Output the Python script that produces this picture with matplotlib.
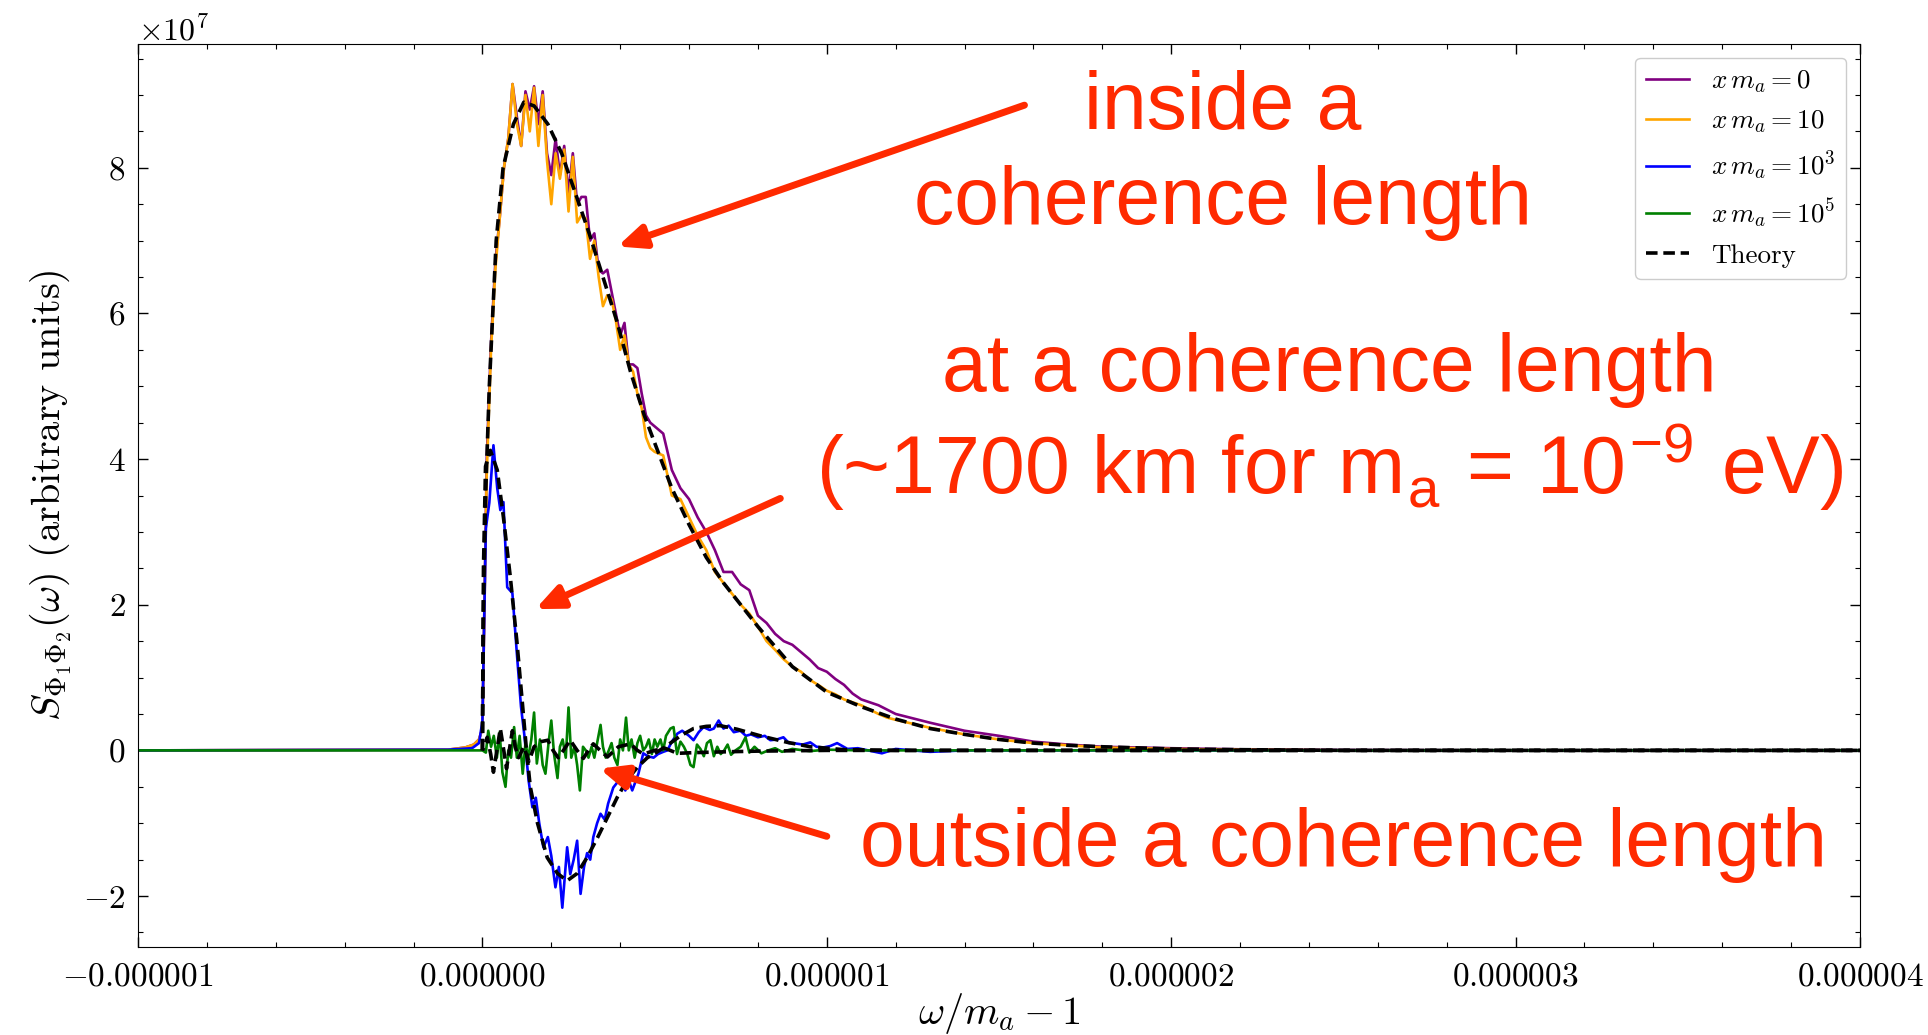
import matplotlib as mpl
mpl.use('Agg')
import numpy as np
import matplotlib.pyplot as plt
from matplotlib.ticker import AutoMinorLocator, FuncFormatter, MultipleLocator

plt.rcParams['font.family'] = 'serif'
plt.rcParams['font.serif'] = ['cmr10', 'DejaVu Serif']
plt.rcParams['mathtext.fontset'] = 'cm'
plt.rcParams['axes.formatter.use_mathtext'] = True
plt.rcParams['axes.unicode_minus'] = True

# x in units of 1e-6 (omega/m_a - 1), y in units of 1e7
x_big = [-1.0, -0.1, -0.05, -0.025, -0.01, 0.0,
         0.0125, 0.025, 0.0375, 0.05, 0.0625, 0.075, 0.0875, 0.1, 0.1125, 0.125,
         0.1375, 0.15, 0.1625, 0.175, 0.1875, 0.2, 0.2125, 0.225, 0.2375, 0.25,
         0.2625, 0.275, 0.2875, 0.3, 0.3125, 0.325, 0.3375, 0.35, 0.3625, 0.375,
         0.3875, 0.4, 0.4125, 0.425, 0.4375, 0.45, 0.4625, 0.475, 0.4875, 0.5,
         0.525, 0.55, 0.575, 0.6, 0.625, 0.65, 0.675, 0.7, 0.725, 0.75, 0.775,
         0.8, 0.825, 0.85, 0.875, 0.9, 0.925, 0.95, 0.975, 1.0, 1.025, 1.05,
         1.075, 1.1, 1.125, 1.15, 1.175, 1.2, 1.3, 1.4, 1.5, 1.6, 1.7, 1.8, 1.9,
         2.0, 2.2, 2.5, 3.0, 4.0]
y_x0 = [0.0, 0.01, 0.04, 0.08, 0.15, 0.3,
        4.0, 5.6, 6.7, 7.3, 8.0, 8.4, 9.15, 8.7, 8.3, 9.05,
        8.8, 9.12, 8.6, 9.05, 8.2, 7.9, 8.4, 7.9, 8.3, 7.65,
        8.2, 7.5, 7.6, 7.6, 7.0, 7.1, 6.6, 6.55, 6.6, 6.3,
        6.0, 5.7, 5.87, 5.3, 5.3, 5.25, 4.9, 4.6, 4.5, 4.45,
        4.35, 3.85, 3.6, 3.45, 3.2, 3.0, 2.75, 2.45, 2.45, 2.28, 2.2,
        1.85, 1.75, 1.6, 1.5, 1.45, 1.35, 1.25, 1.13, 1.08, 0.98, 0.9,
        0.78, 0.7, 0.66, 0.62, 0.56, 0.5, 0.38, 0.27, 0.2, 0.12, 0.08, 0.05, 0.04,
        0.03, 0.015, 0.005, 0.0, 0.0]
y_x10 = [0.0, 0.01, 0.04, 0.08, 0.15, 0.3,
         3.8, 5.5, 6.6, 7.3, 8.0, 8.4, 9.15, 8.6, 8.3, 9.0,
         8.5, 9.1, 8.3, 9.0, 8.1, 7.5, 8.2, 7.85, 8.25, 7.4,
         8.15, 7.25, 7.35, 7.3, 6.75, 7.0, 6.5, 6.1, 6.25, 6.2,
         5.9, 5.5, 5.7, 5.3, 5.2, 4.9, 4.7, 4.3, 4.15, 4.1,
         4.05, 3.5, 3.45, 3.2, 2.95, 2.75, 2.45, 2.3, 2.15, 2.0, 1.88,
         1.7, 1.5, 1.38, 1.25, 1.15, 1.08, 0.97, 0.9, 0.82, 0.77, 0.7,
         0.66, 0.62, 0.56, 0.5, 0.45, 0.42, 0.31, 0.22, 0.15, 0.1, 0.07, 0.04, 0.03,
         0.02, 0.01, 0.0, 0.0, 0.0]

x_blue = [-1.0, -0.1, -0.03, -0.01, 0.0, 0.01, 0.02, 0.032, 0.043, 0.052, 0.061,
          0.072, 0.087, 0.1, 0.112, 0.122, 0.134, 0.145, 0.155, 0.165, 0.177,
          0.19, 0.2, 0.212, 0.222, 0.232, 0.246, 0.255, 0.265, 0.275, 0.285,
          0.295, 0.304, 0.313, 0.322, 0.333, 0.343, 0.355, 0.365, 0.38, 0.39,
          0.4, 0.415, 0.425, 0.435, 0.453, 0.467, 0.48, 0.497, 0.51, 0.525,
          0.537, 0.55, 0.566, 0.58, 0.6, 0.613, 0.628, 0.642, 0.66, 0.672,
          0.686, 0.7, 0.715, 0.73, 0.749, 0.765, 0.78, 0.8, 0.82, 0.836, 0.855,
          0.874, 0.89, 0.903, 0.93, 0.952, 0.97, 0.99, 1.01, 1.03, 1.06, 1.09,
          1.12, 1.16, 1.2, 1.3, 1.4, 4.0]
y_blue = [0.0, 0.01, 0.03, 0.1, 0.4, 3.05, 3.4, 4.19, 3.6, 3.3, 3.41,
          2.24, 2.16, 1.33, 0.6, 0.2, -0.41, -0.78, -0.65, -1.0, -1.33,
          -1.19, -1.45, -1.88, -1.6, -2.16, -1.33, -1.7, -1.5, -1.24, -1.97,
          -1.6, -1.41, -1.5, -1.19, -1.0, -0.87, -0.95, -0.73, -0.51, -0.45,
          -0.32, -0.55, -0.41, -0.55, -0.32, -0.04, -0.08, -0.1, -0.05, -0.02,
          0.0, 0.12, 0.23, 0.27, 0.2, 0.14, 0.25, 0.32, 0.28, 0.3,
          0.41, 0.3, 0.34, 0.25, 0.27, 0.2, 0.22, 0.18, 0.2, 0.14, 0.15,
          0.18, 0.1, 0.1, 0.08, 0.11, 0.05, 0.04, 0.06, 0.1, 0.02, 0.03,
          0.0, -0.04, 0.02, -0.02, 0.0, 0.0]

x_green = [-1.0, 0.0, 0.01, 0.017, 0.025, 0.033, 0.042, 0.05, 0.058, 0.067, 0.075,
           0.083, 0.092, 0.1, 0.108, 0.117, 0.125, 0.133, 0.142, 0.15, 0.158,
           0.167, 0.175, 0.183, 0.192, 0.2, 0.208, 0.218, 0.225, 0.233, 0.242,
           0.25, 0.258, 0.267, 0.275, 0.283, 0.292, 0.3, 0.308, 0.317, 0.325,
           0.333, 0.343, 0.35, 0.358, 0.367, 0.375, 0.383, 0.392, 0.4, 0.408,
           0.417, 0.425, 0.433, 0.442, 0.45, 0.458, 0.467, 0.475, 0.483, 0.492,
           0.5, 0.508, 0.517, 0.525, 0.533, 0.546, 0.555, 0.565, 0.575, 0.585,
           0.595, 0.604, 0.613, 0.623, 0.633, 0.643, 0.652, 0.662, 0.672, 0.682,
           0.692, 0.702, 0.712, 0.722, 0.735, 0.75, 0.764, 0.775, 0.79, 0.81,
           0.83, 0.85, 0.87, 0.9, 0.95, 1.0, 1.1, 4.0]
y_green = [0.0, 0.0, -0.03, 0.27, 0.05, 0.2, -0.1, 0.25, -0.3, -0.5, 0.0,
           -0.1, 0.32, -0.1, 0.2, -0.32, 0.1, -0.1, 0.15, 0.52, -0.18,
           0.15, -0.2, -0.32, 0.1, 0.41, -0.05, -0.38, 0.05, 0.15, -0.1,
           0.59, -0.1, 0.05, -0.2, -0.55, 0.05, 0.0, -0.1, 0.05, -0.1,
           0.1, 0.35, 0.05, -0.1, 0.0, 0.1, -0.1, -0.2, 0.15, 0.0,
           0.45, 0.0, 0.15, -0.1, 0.1, 0.2, 0.0, 0.05, 0.15, -0.05,
           0.15, 0.05, 0.15, 0.0, 0.2, 0.3, 0.32, -0.05, 0.12, 0.05,
           -0.05, -0.2, -0.23, 0.08, 0.02, -0.08, 0.1, 0.14, -0.08, 0.05,
           -0.05, 0.0, 0.08, -0.06, 0.0, 0.05, 0.18, -0.03, 0.05, -0.04,
           0.0, 0.03, -0.02, 0.02, -0.01, 0.01, 0.0, 0.0]

# theory curves
x_th0 = [0.0, 0.002, 0.005, 0.01, 0.02, 0.04, 0.06, 0.09, 0.12, 0.15, 0.19, 0.23,
         0.27, 0.31, 0.35, 0.39, 0.43, 0.47, 0.51, 0.55, 0.6, 0.65, 0.7, 0.75,
         0.8, 0.9, 1.0, 1.1, 1.2, 1.3, 1.4, 1.5, 1.6, 1.7, 1.8, 2.0, 2.2, 2.5, 4.0]
y_th0 = [0.0, 1.6, 2.5, 3.6, 5.0, 7.0, 8.0, 8.6, 8.9, 8.85, 8.6, 8.2,
         7.65, 7.1, 6.5, 5.9, 5.2, 4.6, 4.1, 3.6, 3.1, 2.65, 2.3, 2.0,
         1.7, 1.15, 0.8, 0.6, 0.43, 0.3, 0.22, 0.15, 0.1, 0.07, 0.05, 0.02, 0.01, 0.0, 0.0]
x_th3 = [0.0, 0.003, 0.009, 0.023, 0.043, 0.061, 0.081, 0.1, 0.116, 0.128, 0.139,
         0.16, 0.188, 0.218, 0.246, 0.275, 0.304, 0.334, 0.363, 0.392, 0.42,
         0.45, 0.479, 0.508, 0.537, 0.575, 0.613, 0.65, 0.69, 0.74, 0.807,
         0.886, 0.952, 1.05, 1.2, 4.0]
y_th3 = [0.0, 2.5, 3.9, 4.12, 3.85, 3.2, 2.38, 1.5, 0.65, 0.0, -0.5,
         -1.0, -1.47, -1.69, -1.79, -1.69, -1.47, -1.2, -0.92, -0.64, -0.41,
         -0.23, -0.1, -0.02, 0.07, 0.2, 0.3, 0.33, 0.34, 0.29, 0.2,
         0.11, 0.05, 0.01, 0.0, 0.0]
x_th5 = [0.0, 0.005, 0.014, 0.024, 0.032, 0.042, 0.052, 0.062, 0.07, 0.078, 0.087,
         0.095, 0.105, 0.12, 0.135, 0.15, 0.17, 0.19, 0.205, 0.22, 0.238, 0.255,
         0.275, 0.293, 0.308, 0.322, 0.342, 0.363, 0.395, 0.43, 0.45, 0.468,
         0.5, 0.53, 0.566, 0.62, 0.7, 0.8, 1.0, 4.0]
y_th5 = [0.0, 0.05, 0.18, -0.05, -0.3, 0.0, 0.3, 0.0, -0.25, 0.0, 0.27,
         0.05, -0.1, 0.05, -0.15, 0.05, 0.12, 0.14, 0.0, -0.1, 0.02, 0.14,
         0.0, -0.11, 0.0, 0.09, 0.0, -0.09, 0.05, 0.09, 0.0, -0.05,
         0.0, 0.03, -0.04, -0.03, -0.02, -0.01, 0.0, 0.0]

labels = [r'$x\,m_a = 0$', r'$x\,m_a = 10$', r'$x\,m_a = 10^3$', r'$x\,m_a = 10^5$']
red = '#ff2a00'

fig = plt.figure(figsize=(19.28, 10.35), dpi=100)
ax = fig.add_axes([0.0716, 0.085, 0.8931, 0.8725])

def us(x):
    return np.array(x) * 1e-6

def vs(y):
    return np.array(y) * 1e7

lw = 1.9
ax.plot(us(x_big), vs(y_x0), color='purple', lw=lw, label=labels[0])
ax.plot(us(x_big), vs(y_x10), color='orange', lw=lw, label=labels[1])
ax.plot(us(x_blue), vs(y_blue), color='blue', lw=lw, label=labels[2])
ax.plot(us(x_green), vs(y_green), color='green', lw=lw, label=labels[3])
ax.plot(us(x_th0), vs(y_th0), color='black', lw=2.6, dashes=(3.2, 1.6), label='Theory')
ax.plot(us(x_th3), vs(y_th3), color='black', lw=2.6, dashes=(3.2, 1.6))
ax.plot(us(x_th5), vs(y_th5), color='black', lw=2.6, linestyle=(2.4, (3.2, 1.6)))

ax.set_xlim(-1e-6, 4e-6)
ax.set_ylim(-2.7e7, 9.7e7)

ax.xaxis.set_major_locator(MultipleLocator(1e-6))
ax.xaxis.set_minor_locator(AutoMinorLocator(5))
ax.yaxis.set_minor_locator(AutoMinorLocator(4))

def xfmt(v, pos):
    v = v * 1e6
    if abs(v) < 1e-9:
        v = 0.0
    return r'$%.6f$' % (v * 1e-6)

ax.xaxis.set_major_formatter(FuncFormatter(xfmt))
ax.tick_params(which='both', direction='in', top=True, right=True, labelsize=24)
ax.tick_params(which='major', length=7, width=1)
ax.tick_params(which='minor', length=3.5, width=0.8)
ax.tick_params(axis='x', pad=11)
ax.tick_params(axis='y', pad=9)
ax.yaxis.get_offset_text().set_fontsize(23)

ax.set_xlabel(r'$\omega/m_a - 1$', fontsize=29, labelpad=0)
ax.set_ylabel(r'$S_{\Phi_1\Phi_2}(\omega)$ (arbitrary units)', fontsize=29, labelpad=6)

ax.legend(loc='upper right', fontsize=19.5, handlelength=1.6, framealpha=1.0)

tfont = dict(family=['Liberation Sans', 'DejaVu Sans'], color=red, fontsize=58,
             ha='center', va='center')
ax.text(2.15e-6, 8.82e7, 'inside a', **tfont)
ax.text(2.15e-6, 7.51e7, 'coherence length', **tfont)
ax.text(2.46e-6, 5.23e7, 'at a coherence length', **tfont)
ax.text(2.46e-6, 3.89e7,
        r'(~1700 km for m$_{\mathregular{a}}$ = 10$^{\mathregular{-9}}$ eV)', **tfont)
ax.text(2.5e-6, -1.30e7, 'outside a coherence length', **tfont)

arrow = dict(arrowstyle='-|>,head_length=1.6,head_width=0.7', color=red, lw=5,
             shrinkA=0, shrinkB=0)
ax.annotate('', xy=(0.392e-6, 6.92e7), xytext=(1.574e-6, 8.86e7), arrowprops=arrow)
ax.annotate('', xy=(0.154e-6, 1.94e7), xytext=(0.865e-6, 3.46e7), arrowprops=arrow)
ax.annotate('', xy=(0.34e-6, -0.25e7), xytext=(1.0e-6, -1.18e7), arrowprops=arrow)

plt.savefig('out.png', dpi=100)
plt.close()
